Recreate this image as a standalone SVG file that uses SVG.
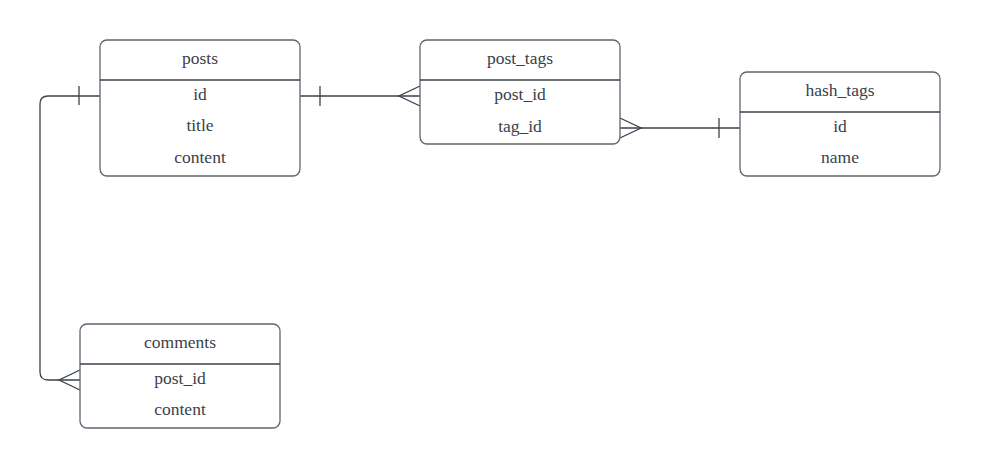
<svg xmlns="http://www.w3.org/2000/svg" width="981" height="468" viewBox="0 0 981 468">
<style>
.box{fill:#fff;stroke:#5f6670;stroke-width:1.3}
.sep{stroke:#3a414a;stroke-width:1.3}
.ln{fill:none;stroke:#3a414a;stroke-width:1.3}
text{font-family:"Liberation Serif","DejaVu Serif",serif;font-size:17.5px;fill:#3a414a;text-anchor:middle;dominant-baseline:central}
</style>
<rect width="981" height="468" fill="#fff"/>
<g id="connectors">
<path class="ln" d="M100,96 H48 Q40,96 40,104 V372 Q40,380 48,380 H80"/>
<path class="ln" d="M79,86 V105"/>
<path class="ln" d="M80,370 L59,380 L80,390"/>
<path class="ln" d="M300,96 H420"/>
<path class="ln" d="M320,86 V106"/>
<path class="ln" d="M420,86 L399,96 L420,106"/>
<path class="ln" d="M620,128 H740"/>
<path class="ln" d="M719,118 V138"/>
<path class="ln" d="M620,118 L641,128 L620,138"/>
</g>
<g id="posts">
<rect class="box" x="100" y="40" width="200" height="136" rx="7"/>
<line class="sep" x1="100" y1="80" x2="300" y2="80"/>
<text x="200" y="58">posts</text>
<text x="200" y="94">id</text>
<text x="200" y="125">title</text>
<text x="200" y="157">content</text>
</g>
<g id="post_tags">
<rect class="box" x="420" y="40" width="200" height="104" rx="7"/>
<line class="sep" x1="420" y1="80" x2="620" y2="80"/>
<text x="520" y="58">post_tags</text>
<text x="520" y="94">post_id</text>
<text x="520" y="126">tag_id</text>
</g>
<g id="hash_tags">
<rect class="box" x="740" y="72" width="200" height="104" rx="7"/>
<line class="sep" x1="740" y1="112" x2="940" y2="112"/>
<text x="840" y="90">hash_tags</text>
<text x="840" y="126">id</text>
<text x="840" y="157">name</text>
</g>
<g id="comments">
<rect class="box" x="80" y="324" width="200" height="104" rx="7"/>
<line class="sep" x1="80" y1="364" x2="280" y2="364"/>
<text x="180" y="342">comments</text>
<text x="180" y="378">post_id</text>
<text x="180" y="409">content</text>
</g>
</svg>
